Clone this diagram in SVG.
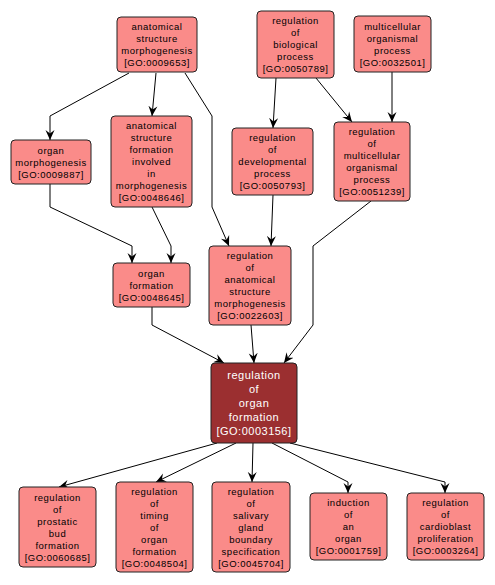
<svg xmlns="http://www.w3.org/2000/svg" width="495" height="585" viewBox="0 0 495 585">
<defs>
<marker id="arr" markerUnits="userSpaceOnUse" markerWidth="11" markerHeight="10" refX="10" refY="5" orient="auto">
<path d="M0,0.5 L10,5 L0,9.5 L3.5,5 z" fill="#000"/>
</marker>
<style>
.n rect{fill:#fa8b89;stroke:#222;stroke-width:1}
.n text{font-family:"Liberation Sans",Arial,sans-serif;font-size:9.5px;letter-spacing:0.5px;fill:#000;text-anchor:middle}
.m rect{fill:#9b2f30;stroke:#222;stroke-width:1}
.m text{font-family:"Liberation Sans",Arial,sans-serif;font-size:11px;letter-spacing:0.5px;fill:#fff;text-anchor:middle}
.e path{fill:none;stroke:#000;stroke-width:1;marker-end:url(#arr)}
</style>
</defs>
<rect width="495" height="585" fill="#fff"/>
<g class="e" id="edges">
<path d="M129,73 L50,116 L50,140"/>
<path d="M156,73 L152,116"/>
<path d="M185,73 L212,116 L212,207 L229,246"/>
<path d="M276,78 L273,128"/>
<path d="M316,78 L352,122"/>
<path d="M392,72 L392,122"/>
<path d="M50,184 L50,207 L132,246 L132,263"/>
<path d="M152,207 L171,246 L171,263"/>
<path d="M273,195 L271,246"/>
<path d="M371,201 L313,246 L313,325 L284,363"/>
<path d="M152,307 L152,325 L224,363"/>
<path d="M251,325 L254,363"/>
<path d="M217,443 L59,487"/>
<path d="M236,443 L156,482"/>
<path d="M253,443 L252,482"/>
<path d="M272,443 L348,482 L348,493"/>
<path d="M290,443 L445,482 L445,493"/>
</g>
<g class="n" id="GO0009653"><rect x="117" y="17" width="80" height="55" rx="4"/><text x="157" y="30">anatomical</text><text x="157" y="42">structure</text><text x="157" y="54">morphogenesis</text><text x="157" y="66">[GO:0009653]</text></g>
<g class="n" id="GO0050789"><rect x="257" y="11" width="77" height="67" rx="4"/><text x="295.5" y="24">regulation</text><text x="295.5" y="36">of</text><text x="295.5" y="48">biological</text><text x="295.5" y="60">process</text><text x="295.5" y="72">[GO:0050789]</text></g>
<g class="n" id="GO0032501"><rect x="354" y="16" width="77" height="56" rx="4"/><text x="392.5" y="29.5">multicellular</text><text x="392.5" y="41.5">organismal</text><text x="392.5" y="53.5">process</text><text x="392.5" y="65.5">[GO:0032501]</text></g>
<g class="n" id="GO0009887"><rect x="11" y="140" width="80" height="44" rx="4"/><text x="51" y="153.5">organ</text><text x="51" y="165.5">morphogenesis</text><text x="51" y="177.5">[GO:0009887]</text></g>
<g class="n" id="GO0048646"><rect x="111" y="116" width="81" height="91" rx="4"/><text x="151.5" y="129">anatomical</text><text x="151.5" y="141">structure</text><text x="151.5" y="153">formation</text><text x="151.5" y="165">involved</text><text x="151.5" y="177">in</text><text x="151.5" y="189">morphogenesis</text><text x="151.5" y="201">[GO:0048646]</text></g>
<g class="n" id="GO0050793"><rect x="232" y="128" width="81" height="67" rx="4"/><text x="272.5" y="141">regulation</text><text x="272.5" y="153">of</text><text x="272.5" y="165">developmental</text><text x="272.5" y="177">process</text><text x="272.5" y="189">[GO:0050793]</text></g>
<g class="n" id="GO0051239"><rect x="334" y="122" width="76" height="79" rx="4"/><text x="372" y="135">regulation</text><text x="372" y="147">of</text><text x="372" y="159">multicellular</text><text x="372" y="171">organismal</text><text x="372" y="183">process</text><text x="372" y="195">[GO:0051239]</text></g>
<g class="n" id="GO0048645"><rect x="113" y="263" width="77" height="44" rx="4"/><text x="151.5" y="276.5">organ</text><text x="151.5" y="288.5">formation</text><text x="151.5" y="300.5">[GO:0048645]</text></g>
<g class="n" id="GO0022603"><rect x="209" y="246" width="82" height="79" rx="4"/><text x="250" y="259">regulation</text><text x="250" y="271">of</text><text x="250" y="283">anatomical</text><text x="250" y="295">structure</text><text x="250" y="307">morphogenesis</text><text x="250" y="319">[GO:0022603]</text></g>
<g class="m" id="GO0003156"><rect x="211" y="363" width="86" height="80" rx="4"/><text x="254" y="379">regulation</text><text x="254" y="393">of</text><text x="254" y="407">organ</text><text x="254" y="421">formation</text><text x="254" y="435">[GO:0003156]</text></g>
<g class="n" id="GO0060685"><rect x="19" y="487" width="77" height="80" rx="4"/><text x="57.5" y="500.5">regulation</text><text x="57.5" y="512.5">of</text><text x="57.5" y="524.5">prostatic</text><text x="57.5" y="536.5">bud</text><text x="57.5" y="548.5">formation</text><text x="57.5" y="560.5">[GO:0060685]</text></g>
<g class="n" id="GO0048504"><rect x="116" y="482" width="77" height="90" rx="4"/><text x="154.5" y="494.5">regulation</text><text x="154.5" y="506.5">of</text><text x="154.5" y="518.5">timing</text><text x="154.5" y="530.5">of</text><text x="154.5" y="542.5">organ</text><text x="154.5" y="554.5">formation</text><text x="154.5" y="566.5">[GO:0048504]</text></g>
<g class="n" id="GO0045704"><rect x="212" y="482" width="78" height="90" rx="4"/><text x="251" y="494.5">regulation</text><text x="251" y="506.5">of</text><text x="251" y="518.5">salivary</text><text x="251" y="530.5">gland</text><text x="251" y="542.5">boundary</text><text x="251" y="554.5">specification</text><text x="251" y="566.5">[GO:0045704]</text></g>
<g class="n" id="GO0001759"><rect x="310" y="493" width="77" height="67" rx="4"/><text x="348.5" y="506">induction</text><text x="348.5" y="518">of</text><text x="348.5" y="530">an</text><text x="348.5" y="542">organ</text><text x="348.5" y="554">[GO:0001759]</text></g>
<g class="n" id="GO0003264"><rect x="407" y="493" width="77" height="67" rx="4"/><text x="445.5" y="506">regulation</text><text x="445.5" y="518">of</text><text x="445.5" y="530">cardioblast</text><text x="445.5" y="542">proliferation</text><text x="445.5" y="554">[GO:0003264]</text></g>
</svg>
